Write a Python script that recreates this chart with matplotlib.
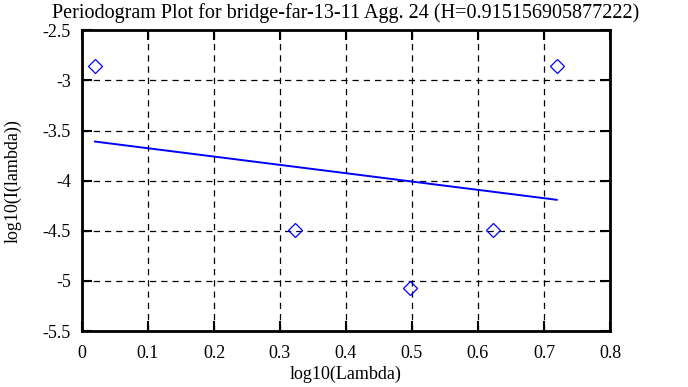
import matplotlib
matplotlib.use('Agg')
import matplotlib.pyplot as plt
import numpy as np

plt.rcParams['font.family'] = ['Liberation Serif', 'DejaVu Serif']

# periodogram points (log10 lambda, log10 I(lambda))
log_lambda = [0.0197, 0.3222, 0.4977, 0.6226, 0.7193]
log_i = [-2.854, -4.492, -5.072, -4.494, -2.856]

# fitted line end points
fit_x = [0.0197, 0.7193]
fit_y = [-3.610, -4.191]

title = 'Periodogram Plot for bridge-far-13-11 Agg. 24 (H=0.915156905877222)'
x_ticks = [0, 0.1, 0.2, 0.3, 0.4, 0.5, 0.6, 0.7, 0.8]
x_labels = ['0', '0.1', '0.2', '0.3', '0.4', '0.5', '0.6', '0.7', '0.8']
y_ticks = [-5.5, -5, -4.5, -4, -3.5, -3, -2.5]
y_labels = ['-5.5', '-5', '-4.5', '-4', '-3.5', '-3', '-2.5']

fig = plt.figure(figsize=(6.88, 3.87), dpi=100)
ax = fig.add_axes([0.1192, 0.1447, 0.7674, 0.777])

ax.plot(log_lambda, log_i, 'D', markerfacecolor='none', markeredgecolor='#0000ff',
        markersize=7.5, markeredgewidth=0.9, linestyle='none')
ax.plot(fit_x, fit_y, color='#0000ff', linewidth=1.4)

ax.set_xlim(0, 0.8)
ax.set_ylim(-5.5, -2.5)
ax.set_xticks(x_ticks)
ax.set_xticklabels(x_labels)
ax.set_yticks(y_ticks)
ax.set_yticklabels(y_labels)
ax.grid(True, color='black', linestyle=(0, (5, 4)), linewidth=0.9)
ax.tick_params(direction='in', length=7, width=1.5, top=True, right=True,
               labelsize=13, colors='black')
ax.tick_params(axis='x', pad=10)
ax.tick_params(axis='y', pad=8)
for s in ax.spines.values():
    s.set_linewidth(2)

ax.set_title(title, fontsize=14.5, pad=9)
ax.set_xlabel('log10(Lambda)', fontsize=13, labelpad=3)
ax.set_ylabel('log10(I(lambda))', fontsize=13, labelpad=15)

plt.savefig('out.png', dpi=100)
